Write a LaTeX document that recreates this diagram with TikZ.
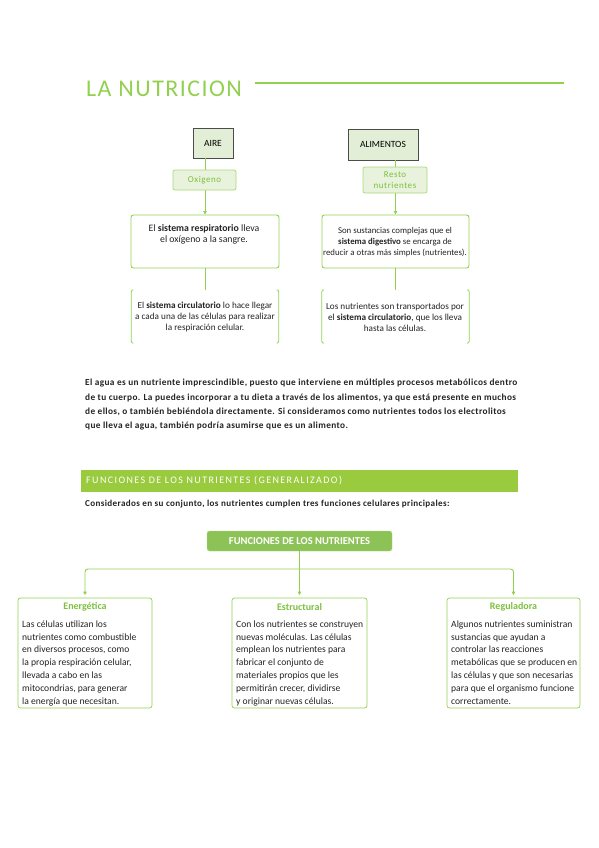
\documentclass[tikz,border=0pt]{standalone}
\usepackage{fontspec}
\setmainfont{Carlito}
\usetikzlibrary{arrows.meta}
\definecolor{lgreen}{RGB}{146,208,80}
\definecolor{bgreen}{RGB}{154,203,62}
\definecolor{fgreen}{RGB}{141,194,86}
\definecolor{palefill}{RGB}{232,242,220}
\definecolor{boxfill}{RGB}{226,239,214}
\definecolor{txtgreen}{RGB}{125,192,62}
\definecolor{dtext}{RGB}{35,35,35}
\begin{document}
\begin{tikzpicture}[x=1pt,y=-1pt,
  conn/.style={lgreen, line width=0.9pt},
  arr/.style={conn, -{Triangle[width=3.5pt,length=3.5pt]}},
  topbox/.style={draw=black!70, line width=0.9pt, fill=boxfill, inner sep=0pt, font=\fontsize{9.5}{11}\selectfont},
  tagbox/.style={draw=lgreen!80, line width=0.7pt, fill=palefill, rounded corners=2pt, inner sep=0pt, text=txtgreen, font=\fontsize{9}{10.5}\selectfont\addfontfeature{LetterSpace=6}, align=center},
  textbox/.style={draw=lgreen, line width=0.9pt, rounded corners=2.5pt, inner sep=0pt},
  frame/.style={draw=none, inner sep=0pt},
  bracket/.style={lgreen, line width=0.8pt, rounded corners=2pt},
  smalltext/.style={text=dtext, font=\fontsize{8.8}{11}\selectfont, align=center, inner sep=0pt},
  funcbox/.style={draw=lgreen, line width=0.7pt, rounded corners=2.5pt, inner sep=0pt},
  functitle/.style={text=txtgreen, font=\bfseries\fontsize{10}{12}\selectfont, inner sep=0pt},
  funcbody/.style={text=dtext, font=\fontsize{9.6}{12.8}\selectfont, align=left, inner sep=0pt, anchor=north west}
]
\useasboundingbox (0,0) rectangle (599,848);

% Title
\node[anchor=base west, inner sep=0pt, text=lgreen, font=\fontsize{24}{28}\selectfont\addfontfeature{LetterSpace=6}] (title) at (86,97) {LA NUTRICION};
\coordinate (tl1) at (255,83);
\coordinate (tl2) at (564,83);
\draw[lgreen, line width=1.4pt] (tl1) -- (tl2);

% Top boxes
\node[topbox, minimum width=40pt, minimum height=30pt] (aire) at (213,143) {AIRE};
\node[topbox, minimum width=70pt, minimum height=31pt] (alim) at (383,144.5) {ALIMENTOS};

% text boxes
\node[textbox, minimum width=148pt, minimum height=53pt] (up1) at (205,241.5) {};
\node[textbox, minimum width=147pt, minimum height=53pt] (up2) at (395.5,241.5) {};
\node[frame, minimum width=147pt, minimum height=53pt] (lo1) at (205,316.5) {};
\node[frame, minimum width=147pt, minimum height=53pt] (lo2) at (395.5,316.5) {};

% connectors (drawn before tags)
\draw[arr] (aire.south -| up1.north) -- (up1.north);
\draw[arr] (alim.south -| up2.north) -- (up2.north);
\draw[conn] (up1.south) -- (lo1.north);
\draw[conn] (up2.south) -- (lo2.north);

\node[tagbox, minimum width=63pt, minimum height=20pt] (oxi) at (204.5,180) {Oxigeno};
\node[tagbox, minimum width=64pt, minimum height=26pt] (resto) at (395,180) {Resto\\nutrientes};

% brackets of lower boxes
\draw[bracket] ([xshift=2pt]lo1.north west) -- (lo1.north west) -- (lo1.south west) -- ([xshift=2pt]lo1.south west);
\draw[bracket] ([xshift=-2pt]lo1.north east) -- (lo1.north east) -- (lo1.south east) -- ([xshift=-2pt]lo1.south east);
\draw[bracket] ([xshift=2pt]lo2.north west) -- (lo2.north west) -- (lo2.south west) -- ([xshift=2pt]lo2.south west);
\draw[bracket] ([xshift=-2pt]lo2.north east) -- (lo2.north east) -- (lo2.south east) -- ([xshift=-2pt]lo2.south east);

% texts
\node[smalltext, font=\fontsize{9.8}{11}\selectfont] (t1) at (204,234) {El \textbf{sistema respiratorio} lleva\\el oxígeno a la sangre.};
\node[smalltext] (t2) at (395,242) {Son sustancias complejas que el\\\textbf{sistema digestivo} se encarga de\\reducir a otras más simples (nutrientes).};
\node[smalltext, font=\fontsize{9.2}{11}\selectfont] (t3) at (205,317) {El \textbf{sistema circulatorio} lo hace llegar\\a cada una de las células para realizar\\la respiración celular.};
\node[smalltext, font=\fontsize{9.2}{11}\selectfont] (t4) at (395,317) {Los nutrientes son transportados por\\el \textbf{sistema circulatorio}, que los lleva\\hasta las células.};

% paragraph
\node[anchor=north west, inner sep=0pt, align=left, text=dtext, font=\bfseries\fontsize{9.3}{14.3}\selectfont\addfontfeature{LetterSpace=4}] (para) at (85,379)
{El agua es un nutriente imprescindible, puesto que interviene en múltiples procesos metabólicos dentro\\
de tu cuerpo. La puedes incorporar a tu dieta a través de los alimentos, ya que está presente en muchos\\
de ellos, o también bebiéndola directamente. Si consideramos como nutrientes todos los electrolitos\\
que lleva el agua, también podría asumirse que es un alimento.};

% banner
\node[fill=bgreen, minimum width=437pt, minimum height=22pt, inner sep=0pt] (banner) at (299.5,481) {};
\node[anchor=west, inner sep=0pt, text=white, font=\fontsize{10}{12}\selectfont\addfontfeature{LetterSpace=14}] (bantext) at (86,481) {FUNCIONES DE LOS NUTRIENTES (GENERALIZADO)};

\node[anchor=west, inner sep=0pt, text=dtext, font=\bfseries\fontsize{9.1}{10}\selectfont\addfontfeature{LetterSpace=4}] (consid) at (85,504) {Considerados en su conjunto, los nutrientes cumplen tres funciones celulares principales:};

% Funciones box
\node[fill=fgreen, draw=lgreen!70, rounded corners=2.5pt, minimum width=185pt, minimum height=20pt, inner sep=0pt, text=white, font=\bfseries\fontsize{10.5}{12}\selectfont] (func) at (299.5,541) {FUNCIONES DE LOS NUTRIENTES};

\node[funcbox, minimum width=134pt, minimum height=110pt] (b1) at (85,653) {};
\node[funcbox, minimum width=135pt, minimum height=110pt] (b2) at (299.5,653) {};
\node[funcbox, minimum width=133pt, minimum height=110pt] (b3) at (513.5,653) {};

\coordinate (hub) at (299.5,569);
\draw[arr, shorten >=2.5pt] (func.south) -- (b2.north);
\draw[arr, rounded corners=3pt, shorten >=2.5pt] (hub) -| (b1.north);
\draw[arr, rounded corners=3pt, shorten >=2.5pt] (hub) -| (b3.north);

\node[functitle] (h1) at (85,607) {Energética};
\node[functitle] (h2) at (299.5,607) {Estructural};
\node[functitle] (h3) at (513.5,607) {Reguladora};

\node[funcbody] (x1) at (22,620.5) {Las células utilizan los\\nutrientes como combustible\\en diversos procesos, como\\la propia respiración celular,\\llevada a cabo en las\\mitocondrias, para generar\\la energía que necesitan.};
\node[funcbody] (x2) at (236,620.5) {Con los nutrientes se construyen\\nuevas moléculas. Las células\\emplean los nutrientes para\\fabricar el conjunto de\\materiales propios que les\\permitirán crecer, dividirse\\y originar nuevas células.};
\node[funcbody] (x3) at (451,620.5) {Algunos nutrientes suministran\\sustancias que ayudan a\\controlar las reacciones\\metabólicas que se producen en\\las células y que son necesarias\\para que el organismo funcione\\correctamente.};
\end{tikzpicture}
\end{document}
